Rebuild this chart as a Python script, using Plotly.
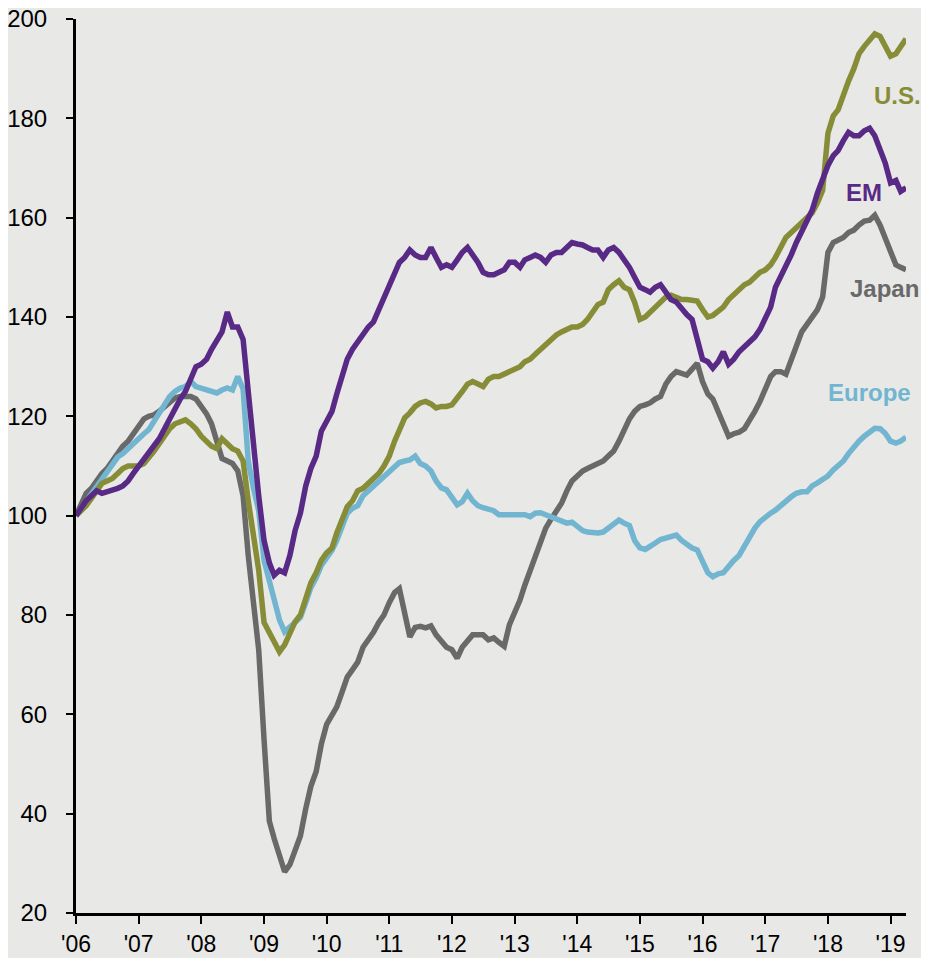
import pandas as pd
import plotly.graph_objects as go

# monthly index levels, Jan 2006 = 100
dates = pd.date_range("2006-01-01", periods=160, freq="MS")

us = [
    100, 101, 102, 103.5, 105, 106.5, 107, 107.5, 108.5, 109.5, 110, 110,
    110, 110.5, 111.5, 113, 114.5, 116, 117.5, 118.5, 119, 119.3, 118.5, 117.5,
    116, 115, 114, 113.5, 115.5, 114.5, 113.5, 113, 111, 103, 96, 89,
    78.5, 76.5, 74.5, 72.6, 74, 76.5, 78.6, 80, 83.5, 86.5, 88.5, 91,
    92.5, 93.5, 96.5, 99.5, 101.8, 103, 105, 105.5, 106.5, 107.8, 108.5, 110,
    112, 115, 117.5, 119.7, 120.7, 122, 122.7, 123, 122.5, 121.7, 122, 122,
    122.3, 123.5, 125, 126.5, 127, 126.5, 126, 127.5, 128, 128, 128.5, 129,
    129.5, 130, 131, 131.5, 132.5, 133.5, 134.5, 135.5, 136.4, 137, 137.5, 138,
    138, 138.5, 139.5, 141, 142.5, 143, 145.5, 146.5, 147.3, 146, 145.5, 143,
    139.5, 140, 141, 142, 143, 144, 144.4, 144, 143.5, 143.5, 143.4, 143.2,
    141.5, 140, 140.3, 141, 142, 143.5, 144.5, 145.5, 146.5, 147, 148, 149,
    149.5, 150.5, 152, 154, 156, 157, 158, 159, 159.8, 161, 163, 165.5,
    177, 180.5, 181.7, 185, 187.5, 190, 193, 194.5, 196, 197, 196.5, 194.5,
    192.5, 193, 194.5, 196,
]

em = [
    100, 101.5, 103, 104, 105, 104.5, 104.8, 105, 105.5, 106, 107, 108.5,
    110, 111.5, 112.5, 114, 115.5, 117.5, 119.5, 121.5, 123.5, 125, 127.5, 130,
    130.5, 131.5, 133.5, 135.5, 137, 141, 138, 138, 135.5, 125, 113, 104,
    95, 90.5, 88, 89, 88.5, 92, 97, 100.5, 106, 109.5, 112, 117,
    119, 121, 124.5, 128, 131.5, 133.5, 135, 136.5, 138, 139, 141.5, 143.5,
    146.5, 148.5, 151, 152, 153.5, 152.5, 152, 152, 154, 152, 150, 150.5,
    150, 151.5, 153, 154, 152.5, 151, 149, 148.5, 148.5, 149, 149.5, 151,
    151, 150, 151.5, 152, 152.5, 152, 151, 152.5, 153, 153, 154, 155,
    154.7, 154.5, 154, 153.5, 153.5, 152, 153.5, 154, 153, 151.5, 150, 148,
    146, 145.5, 145, 146, 146.5, 145, 143.5, 143, 141.5, 140.5, 139.5, 136,
    131.5, 131, 129.7, 131, 133, 130.5, 131.5, 133, 134, 135, 136, 137.5,
    139.5, 142, 146, 148, 150, 152.5, 155, 157, 159, 161.5, 165, 168,
    170.5, 172.5, 173.5, 175.5, 177.2, 176.5, 176.5, 177.5, 178, 176.5, 174, 171,
    167, 167.5, 165.3, 166,
]

japan = [
    100, 102.5, 104.5, 105.5, 107, 108.5, 109.5, 111, 112.5, 114, 115, 116.5,
    118, 119.5, 120, 120.3, 121, 122, 123, 123.7, 124, 124, 124, 123.5,
    122, 120.5, 118.5, 115, 111.5, 111, 110.5, 109, 104, 92, 81, 73,
    55, 38.5, 35, 31.5, 28.3, 29.8, 32.5, 35.5, 41, 45.5, 48.5, 54,
    58, 60, 61.5, 64.5, 67.5, 69, 70.5, 73.5, 75, 76.5, 78.5, 80,
    82.5, 84.5, 85.3, 80, 75.6, 77.5, 77.7, 77.4, 77.8, 76, 74.5, 73.5,
    73, 71.3, 73.5, 75, 76, 76, 76, 75, 75.4, 74.5, 73.7, 78,
    80.5, 83, 86, 89, 92, 95, 97.5, 99.3, 101, 102.5, 105, 107,
    108, 109, 109.5, 110, 110.5, 111, 112, 113, 115, 117.5, 119.5, 121,
    122, 122.3, 122.7, 123.5, 124, 126.5, 128, 129, 128.7, 128.3, 129.5, 130.7,
    127, 124.5, 123.5, 121, 118, 116, 116.5, 116.8, 117.5, 119, 121, 123,
    125.5, 128, 129, 129, 128.5, 131.5, 134, 137, 138.5, 140, 141.5, 144,
    153, 155, 155.5, 156, 157, 157.5, 158.5, 159.3, 159.5, 160.5, 158.5, 156,
    153, 150.5, 150, 149.5,
]

europe = [
    100, 101.5, 103, 104.5, 106, 107.5, 108.5, 110, 111.8, 112.5, 113.6, 114.5,
    115.5, 116.5, 117.3, 119, 120.7, 122.5, 124, 125, 125.7, 126, 127, 126,
    125.7, 125.3, 125, 124.7, 125.3, 125.7, 125.3, 128, 125.5, 111, 105.5, 101,
    91, 86.5, 83, 79, 76.6, 77.5, 78.5, 79.5, 82.5, 85.5, 87.5, 90,
    91.5, 93, 95, 97.5, 100.5, 101.5, 102, 104, 105, 106, 107, 108,
    109, 110, 110.7, 111, 111.2, 112, 110.5, 110, 109, 107, 105.6, 105.2,
    103.5, 102.2, 102.8, 104.5, 103, 102, 101.6, 101.3, 101, 100.2, 100.2, 100.2,
    100.2, 100.3, 100.2, 99.8, 100.5, 100.6, 100.2, 99.7, 99.3, 99, 98.5, 98.7,
    97.8, 97, 96.7, 96.5, 96.5, 96.7, 97.5, 98.5, 99.1, 98.5, 98, 95,
    93.5, 93.2, 93.7, 94.5, 95.2, 95.5, 96, 96.1, 95, 94.1, 93.5, 93.1,
    91, 88.5, 87.7, 88.3, 88.5, 90, 91, 92, 94, 96, 97.5, 98.8,
    99.8, 100.5, 101.1, 102, 103.2, 103.8, 104.5, 104.8, 104.8, 106, 106.6, 107.2,
    108, 109.2, 110, 111, 112.5, 114, 115, 116, 117, 117.6, 117.5, 116.6,
    115, 114.6, 115, 115.8,
]

# name, values, colour, label position (date, value)
series = [
    ("Japan", japan, "#696969", ("2018-04-25", 145.8)),
    ("Europe", europe, "#72b5d0", ("2017-12-20", 124.9)),
    ("U.S.", us, "#878c37", ("2018-09-15", 184.5)),
    ("EM", em, "#582a86", ("2018-04-05", 165.0)),
]

font = "Arial, Liberation Sans, sans-serif"
bg = "#e8e8e6"

fig = go.Figure()
for name, vals, colour, (lx, ly) in series:
    fig.add_trace(go.Scatter(
        x=dates, y=vals, mode="lines", name=name,
        line=dict(color=colour, width=5.5),
        showlegend=False,
    ))
    fig.add_annotation(
        x=lx, y=ly, text=f"<b>{name}</b>", showarrow=False,
        xanchor="left", yanchor="middle",
        font=dict(family=font, size=24, color=colour),
    )

# the page body adds 8px on the left and top, so the figure is 8px smaller
fig.update_layout(
    width=921, height=950,
    margin=dict(l=68, r=23, t=11, b=45, autoexpand=False),
    paper_bgcolor=bg, plot_bgcolor=bg,
    font=dict(family=font, size=24, color="black"),
)
fig.update_xaxes(
    range=["2006-01-01", "2019-04-01"],
    tickformat="'%y", dtick="M12", tick0="2006-01-01",
    ticks="outside", ticklen=8, tickwidth=2, tickcolor="black",
    showline=True, linecolor="black", linewidth=3,
    showgrid=False, zeroline=False, automargin=False,
    tickfont=dict(size=23),
    ticklabelstandoff=0, ticklabeloverflow="allow",
)
fig.update_yaxes(
    range=[20, 200], dtick=20,
    ticks="outside", ticklen=7, tickwidth=2, tickcolor="black",
    showline=True, linecolor="black", linewidth=3,
    showgrid=False, zeroline=False, automargin=False,
    ticklabelstandoff=14, ticklabeloverflow="allow",
)

fig.write_html("out.html")
